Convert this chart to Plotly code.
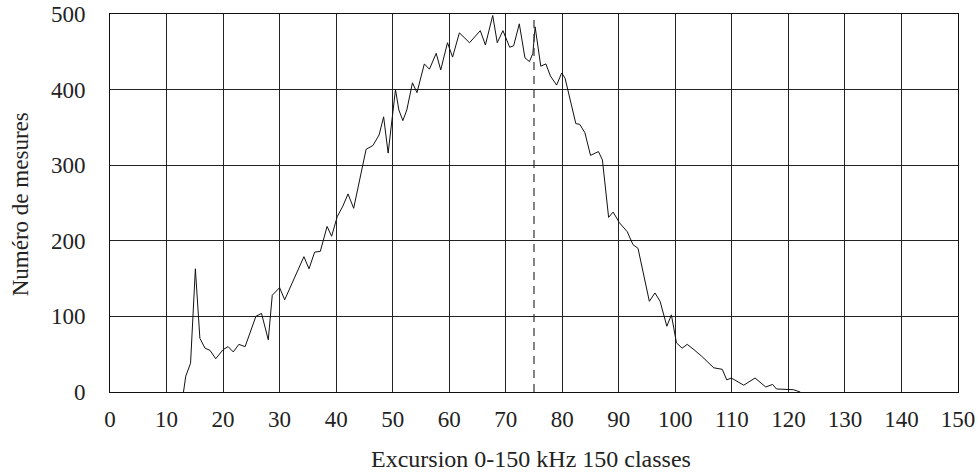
import plotly.graph_objects as go

# Excursion classes (kHz) and number of measures
excursion_khz = [
    13.0, 13.4, 14.25, 15.1, 15.9, 16.8, 17.7, 18.7, 20.0, 20.9, 21.8, 22.8, 23.9,
    25.8, 26.8, 28.0, 28.7, 30.0, 30.9, 32.6, 34.3, 35.2, 36.2, 37.2, 38.4, 39.2,
    40.2, 41.2, 42.1, 43.1, 45.3, 46.5, 47.6, 48.4, 49.2, 50.5, 51.1, 51.8, 52.5,
    53.5, 54.3, 55.6, 56.5, 57.7, 58.5, 59.7, 60.6, 61.8, 63.6, 65.5, 66.4, 67.7,
    68.5, 69.5, 70.7, 71.4, 72.4, 73.4, 74.2, 74.8, 75.2, 76.2, 77.1, 77.9, 79.0,
    79.9, 80.5, 82.4, 83.1, 84.0, 85.0, 86.4, 87.1, 88.2, 89.0, 90.1, 91.5, 92.5,
    93.4, 95.4, 96.4, 97.3, 98.5, 99.3, 100.2, 101.2, 102.1, 103.3, 104.7, 106.8,
    108.3, 109.1, 109.9, 112.1, 114.1, 116.0, 117.2, 117.9, 119.7, 120.9, 122.1,
]
measures = [
    0, 21, 38, 163, 71, 58, 55, 44, 56, 60, 53, 63, 60,
    100, 104, 69, 128, 138, 122, 150, 179, 163, 185, 186, 219, 206,
    232, 246, 262, 243, 321, 326, 340, 364, 316, 400, 373, 359, 373,
    409, 396, 434, 427, 448, 426, 462, 443, 475, 462, 478, 459, 498,
    462, 478, 456, 458, 487, 442, 437, 448, 483, 431, 434, 418, 406,
    422, 415, 355, 354, 343, 313, 318, 307, 231, 238, 224, 212, 195,
    190, 120, 131, 120, 87, 102, 65, 58, 63, 56, 47, 32,
    30, 16, 18.5, 9, 18.5, 6.6, 10, 4, 4, 3, 0,
]

dash_x = 75
y_range = [0, 500]
x_ticks = list(range(0, 151, 10))
y_ticks = list(range(0, 501, 100))

x_title = "Excursion 0-150 kHz 150 classes"
y_title = "Numéro de mesures"

FONT = "Liberation Serif, Times New Roman, serif"
FS = 23

fig = go.Figure()
fig.add_trace(go.Scatter(
    x=excursion_khz, y=measures, mode="lines",
    line=dict(color="#111111", width=1),
    showlegend=False, hoverinfo="skip",
))
fig.add_trace(go.Scatter(
    x=[dash_x, dash_x], y=y_range, mode="lines",
    line=dict(color="#333333", width=1.2, dash="8px,6px"),
    showlegend=False, hoverinfo="skip",
))

fig.update_layout(
    width=978, height=476,
    margin=dict(l=110, r=20, t=14, b=84, autoexpand=False),
    paper_bgcolor="white", plot_bgcolor="white",
    font=dict(family=FONT, size=FS, color="#222222"),
    xaxis=dict(
        range=[0, 150], tickvals=x_ticks, ticktext=[str(v) for v in x_ticks],
        showgrid=True, gridcolor="#222222", gridwidth=1,
        showline=True, linecolor="#111111", linewidth=1, mirror=True,
        zeroline=False, ticks="", ticklabelstandoff=6, automargin=False,
        ticklabeloverflow="allow",
        tickfont=dict(family=FONT, size=FS),
    ),
    yaxis=dict(
        range=y_range, tickvals=y_ticks, ticktext=[str(v) for v in y_ticks],
        showgrid=True, gridcolor="#222222", gridwidth=1,
        showline=True, linecolor="#111111", linewidth=1, mirror=True,
        zeroline=False, ticks="", ticklabelstandoff=19, automargin=False,
        ticklabeloverflow="allow",
        tickfont=dict(family=FONT, size=FS),
    ),
    annotations=[
        dict(text=x_title, xref="paper", yref="paper", x=0.497, y=-0.177,
             xanchor="center", yanchor="middle", showarrow=False,
             font=dict(family=FONT, size=24, color="#222222")),
        dict(text=y_title, xref="paper", yref="paper", x=-0.106, y=0.497,
             xanchor="center", yanchor="middle", showarrow=False, textangle=-90,
             font=dict(family=FONT, size=FS, color="#222222")),
    ],
)

# remove the default page margin so the 978x476 figure fills the window
fig.write_html("out.html", config={"displayModeBar": False},
               post_script="document.body.style.margin='0';")
